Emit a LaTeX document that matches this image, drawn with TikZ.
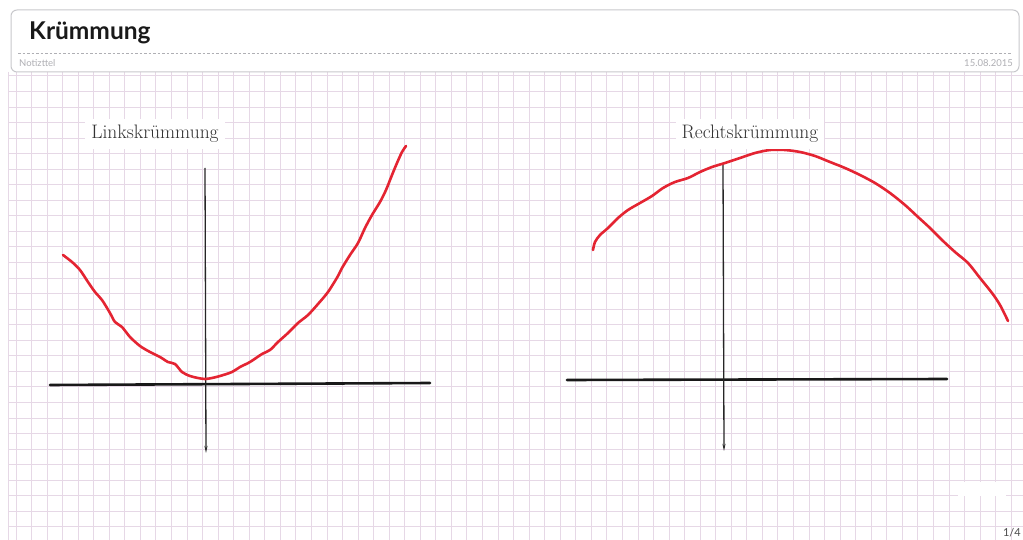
\documentclass[tikz,border=0pt]{standalone}
\usepackage{fontspec}
\newfontfamily\latofont{Lato}
\usetikzlibrary{arrows.meta}
\definecolor{gridpink}{RGB}{230,216,230}
\definecolor{curvered}{RGB}{228,36,50}
\definecolor{framegray}{RGB}{200,200,204}
\definecolor{notegray}{RGB}{175,175,180}

\begin{document}
\begin{tikzpicture}[x=1pt, y=-1pt,
    gridline/.style={gridpink, line width=1pt},
    axisline/.style={black!90, line width=2.6pt, line cap=round},
    vaxis/.style={black!85, line width=1.3pt, -{Stealth[length=7pt, width=3pt]}},
    redcurve/.style={curvered, line width=2.6pt, line cap=round, line join=round},
    curvelabel/.style={fill=white, text=black!80, inner sep=6pt,
        font=\fontsize{19.5}{21}\selectfont},
    notetext/.style={text=notegray, inner sep=0pt, font=\latofont\fontsize{9.5}{11}\selectfont}]
    \useasboundingbox (0,0) rectangle (1023,540);
    \fill[white] (0,0) rectangle (1023,540);

    % grid paper
    \foreach \i in {0,...,64}
        \draw[gridline] (16+15.55*\i, 72) -- (16+15.55*\i, 540);
    \foreach \j in {-1,...,28}
        \draw[gridline] (9, 91.5+15.55*\j) -- (1023, 91.5+15.55*\j);
    \draw[gridline] (8.5,72) -- (8.5,540);
    \fill[white] (958,482) rectangle (1006,496);

    % header
    \draw[framegray, fill=white, rounded corners=6pt, line width=1pt] (11,10) rectangle (1019,72);
    \draw[notegray, line width=0.8pt, dash pattern=on 2.5pt off 2pt] (18,53) -- (1012,53);
    \node[anchor=west, inner sep=0pt, text=black!90,
        font=\latofont\bfseries\fontsize{24.5}{28}\selectfont] (title) at (29,33) {Krümmung};
    \node[notetext, anchor=base west] (subtitle) at (19,66.5) {Notizttel};
    \node[notetext, anchor=base east] (date) at (1013,66.5) {15.08.2015};
    \node[anchor=north east, inner sep=0pt, text=black!70,
        font=\latofont\fontsize{11}{12}\selectfont] (page) at (1021,528) {1/4};

    % left: Linkskruemmung
    \draw[axisline] (50,385) -- (430,383);
    \draw[vaxis] (205,168) -- (206,453);
    \draw[redcurve] plot[smooth, tension=0.5] coordinates {
        (63,255) (72,262) (80,270) (88,282) (95,292) (102,300) (110,313)
        (115,322) (122,327) (130,337) (140,346) (150,352) (160,357) (168,362)
        (175,364) (182,372) (190,376) (198,378) (205,379) (212,378) (220,376)
        (232,372) (240,367) (250,362) (262,354) (270,350) (278,342) (288,333)
        (298,323) (308,315) (318,304) (328,292) (338,276) (342,268) (350,255)
        (358,243) (365,228) (372,215) (380,202) (386,190) (392,175) (397,163)
        (402,152) (406,146)};
    \node[curvelabel] (links) at (155,134) {Linkskrümmung};

    % right: Rechtskruemmung
    \draw[axisline] (567,380) -- (947,379);
    \draw[vaxis] (723,163) -- (724,451);
    \draw[redcurve] plot[smooth, tension=0.5] coordinates {
        (593,250) (595,242) (600,235) (608,228) (618,218) (628,210) (640,203)
        (652,196) (663,188) (675,182) (688,178) (700,172) (712,167) (725,163)
        (740,158) (755,153) (770,150) (785,150) (800,152) (815,156) (830,162)
        (845,168) (860,175) (875,183) (890,193) (905,205) (918,217) (930,228)
        (942,240) (955,252) (968,263) (980,278) (992,293) (1000,305) (1008,321)};
    \node[curvelabel] (rechts) at (750,134) {Rechtskrümmung};
\end{tikzpicture}
\end{document}
